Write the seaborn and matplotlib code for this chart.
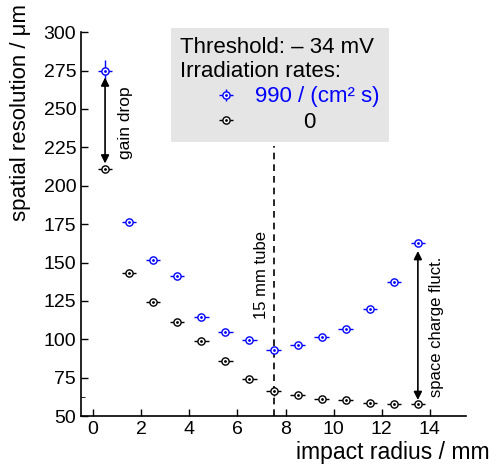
import numpy as np
import seaborn as sns
import matplotlib
import matplotlib.pyplot as plt
from matplotlib.lines import Line2D
from matplotlib.legend_handler import HandlerTuple
matplotlib.use('Agg')

# Daten: Ortsauflösung gegen Radius
radius = [0.5, 1.5, 2.5, 3.5, 4.5, 5.5, 6.5, 7.5, 8.5, 9.5, 10.5, 11.5, 12.5, 13.5]
res_990 = [275.0, 176.3, 151.8, 141.3, 114.6, 104.5, 99.5, 93.2, 96.2, 101.4, 106.9, 119.5, 137.2, 162.4]
res_0 = [210.8, 143.1, 124.4, 111.2, 98.6, 85.6, 74.5, 66.1, 63.9, 60.9, 60.2, 58.7, 58.0, 58.0]
yerr_990 = [7.0, 1.5, 1.2, 1.2, 1.0, 1.0, 1.0, 1.0, 1.0, 1.0, 1.0, 1.2, 1.5, 1.5]
yerr_0 = [1.5, 1.2, 1.0, 1.0, 1.0, 1.0, 1.0, 3.0, 1.0, 1.0, 1.0, 1.0, 1.0, 1.0]
xerr = 0.3

sns.set_style("ticks", {"text.color": "black", "axes.labelcolor": "black",
                        "xtick.color": "black", "ytick.color": "black",
                        "axes.edgecolor": "black"})
plt.rcParams['font.family'] = ['Liberation Sans', 'DejaVu Sans']

fig = plt.figure(figsize=(5, 4.66), dpi=100)
ax = fig.add_axes([0.162, 0.107, 0.77, 0.824])

def serie(y, yerr, color):
    ax.errorbar(radius, y, xerr=xerr, yerr=yerr, fmt='none', ecolor=color, elinewidth=1, capsize=0, zorder=3)
    ax.plot(radius, y, 'o', mfc='white', mec=color, mew=1, ms=5.2, ls='none', zorder=4)
    ax.plot(radius, y, '.', color=color, ms=2, ls='none', zorder=5)

serie(res_990, yerr_990, 'blue')
serie(res_0, yerr_0, 'black')

# gestrichelte Linie 15 mm Rohr
ax.plot([7.5, 7.5], [50, 226], ls=(0, (4, 3)), color='black', lw=1.2, zorder=2)
ax.text(7.0, 142, "15 mm tube", rotation=90, ha='center', va='center', fontsize=12)

# Pfeile
pfeil = dict(arrowstyle='<|-|>', color='black', lw=1.2, mutation_scale=12, shrinkA=0, shrinkB=0)
ax.annotate("", xy=(0.5, 214.5), xytext=(0.5, 270.5), arrowprops=pfeil)
ax.text(1.33, 241, "gain drop", rotation=90, ha='center', va='center', fontsize=12.5)
ax.annotate("", xy=(13.5, 60.5), xytext=(13.5, 157.5), arrowprops=pfeil)
ax.text(14.27, 108, "space charge fluct.", rotation=90, ha='center', va='center', fontsize=12)

ax.set_xlim(-0.5, 15.5)
ax.set_ylim(50, 300)
ax.set_xticks([0, 2, 4, 6, 8, 10, 12, 14])
ax.set_yticks([50, 75, 100, 125, 150, 175, 200, 225, 250, 275, 300])
ax.set_yticks([62.5], minor=True)
ax.tick_params(axis='both', direction='in', labelsize=14, length=5, width=1, colors='black')
ax.tick_params(axis='y', which='minor', direction='in', length=3, colors='black')
ax.set_xlabel("impact radius / mm", fontsize=16.5, color='black')
ax.set_ylabel("spatial resolution / μm", fontsize=16, color='black')
ax.xaxis.set_label_coords(0.81, -0.065)
ax.yaxis.set_label_coords(-0.13, 0.79)
sns.despine(ax=ax)
for s in ['left', 'bottom']:
    ax.spines[s].set_linewidth(1.2)
    ax.spines[s].set_color('black')

# Legende
def handle(color, vbar):
    teile = [Line2D([], [], marker='_', color=color, ms=9.5, mew=1, ls='none')]
    if vbar:
        teile.append(Line2D([], [], marker='|', color=color, ms=8, mew=1, ls='none'))
    teile.append(Line2D([], [], marker='o', mfc='white', mec=color, ms=5.2, mew=1, ls='none'))
    teile.append(Line2D([], [], marker='.', color=color, ms=2, ls='none'))
    return tuple(teile)

leg = ax.legend([handle('blue', True), handle('black', False)], ["990 / (cm² s)", "        0"],
                handler_map={tuple: HandlerTuple(ndivide=1, pad=0)},
                title="Threshold: – 34 mV\nIrradiation rates:", loc='upper left',
                bbox_to_anchor=(0.342, 0.94), bbox_transform=fig.transFigure,
                fontsize=16, title_fontsize=16, alignment='left',
                handlelength=4.15, handletextpad=-0.75, borderpad=0.4,
                labelspacing=0.2, frameon=True, fancybox=False, borderaxespad=0)
leg.get_frame().set_facecolor('#e5e5e5')
leg.get_frame().set_edgecolor('none')
leg.get_frame().set_alpha(1)
leg.get_title().set_color('black')
leg.get_texts()[0].set_color('blue')
leg.get_texts()[1].set_color('black')

plt.savefig("out.png", dpi=100)
